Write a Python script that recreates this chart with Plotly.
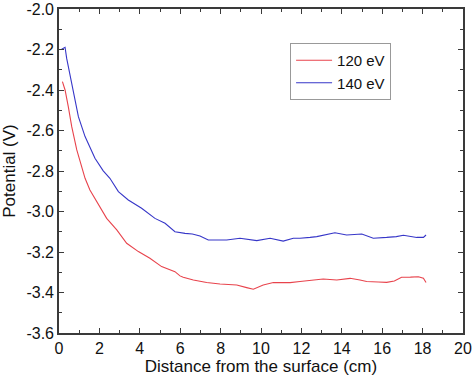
import plotly.graph_objects as go

# Data
x_120 = [0.17, 0.30, 0.46, 0.63, 0.88, 1.12, 1.29, 1.53, 1.95, 2.36, 2.86, 3.35, 3.93, 4.50, 5.08,
         5.50, 5.74, 5.99, 6.15, 6.65, 7.31, 7.97, 8.80, 9.29, 9.62, 10.11, 10.61, 11.10, 11.44, 11.93,
         12.43, 13.08, 13.75, 14.41, 14.90, 15.23, 15.80, 16.22, 16.60, 16.96, 17.40, 17.79, 18.04, 18.17]
y_120 = [-2.359, -2.400, -2.482, -2.581, -2.696, -2.778, -2.836, -2.894, -2.968, -3.034, -3.091, -3.157, -3.198, -3.231, -3.272,
         -3.289, -3.297, -3.318, -3.325, -3.338, -3.351, -3.358, -3.363, -3.376, -3.384, -3.363, -3.351, -3.351, -3.351, -3.346,
         -3.341, -3.333, -3.338, -3.330, -3.338, -3.346, -3.348, -3.350, -3.343, -3.325, -3.324, -3.322, -3.330, -3.351]

x_140 = [0.13, 0.30, 0.38, 0.63, 0.96, 1.29, 1.78, 2.19, 2.52, 2.94, 3.43, 4.09, 4.75, 5.25, 5.74,
         6.24, 6.60, 6.98, 7.39, 7.81, 8.30, 8.96, 9.30, 9.79, 10.45, 11.10, 11.60, 11.93, 12.43, 12.76,
         13.66, 14.24, 14.99, 15.56, 16.22, 16.70, 17.05, 17.40, 17.71, 18.04, 18.17]
y_140 = [-2.199, -2.189, -2.244, -2.367, -2.532, -2.630, -2.737, -2.799, -2.836, -2.902, -2.943, -2.984, -3.034, -3.058, -3.100,
         -3.108, -3.111, -3.121, -3.141, -3.141, -3.141, -3.132, -3.137, -3.144, -3.132, -3.146, -3.132, -3.132, -3.128, -3.124,
         -3.105, -3.116, -3.111, -3.132, -3.128, -3.124, -3.117, -3.122, -3.128, -3.128, -3.116]

x_ticks = [0, 2, 4, 6, 8, 10, 12, 14, 16, 18, 20]
y_ticks = [-3.6, -3.4, -3.2, -3.0, -2.8, -2.6, -2.4, -2.2, -2.0]
y_tick_text = ["-3.6", "-3.4", "-3.2", "-3.0", "-2.8", "-2.6", "-2.4", "-2.2", "-2.0"]

FONT = "Liberation Sans, Arial, sans-serif"
AX = "#3a3a3a"

fig = go.Figure()
fig.add_trace(go.Scatter(x=x_120, y=y_120, mode="lines", name="120 eV",
                         line=dict(color="#e8434c", width=1.1)))
fig.add_trace(go.Scatter(x=x_140, y=y_140, mode="lines", name="140 eV",
                         line=dict(color="#3636c8", width=1.1)))

axis_common = dict(showline=True, linecolor=AX, linewidth=1.6, mirror="ticks",
                   ticks="inside", ticklen=5, tickwidth=1.3, tickcolor=AX,
                   showgrid=False, zeroline=False, automargin=False,
                   tickfont=dict(family=FONT, size=16, color="#111"))

fig.update_xaxes(range=[0, 20], tickvals=x_ticks,
                 title=dict(text="Distance from the surface (cm)", font=dict(family=FONT, size=17, color="#111"), standoff=0),
                 minor=dict(dtick=1, tick0=0, ticks="inside", ticklen=3, tickwidth=1.1, tickcolor=AX),
                 **axis_common)
fig.update_yaxes(range=[-3.6, -2.0], tickvals=y_ticks, ticktext=y_tick_text,
                 title=dict(text="Potential (V)", font=dict(family=FONT, size=17, color="#111"), standoff=6),
                 minor=dict(dtick=0.1, tick0=-3.6, ticks="inside", ticklen=3, tickwidth=1.1, tickcolor=AX),
                 **axis_common)

fig.update_layout(
    width=474, height=376,
    margin=dict(l=59, r=11, t=9, b=43),
    paper_bgcolor="white", plot_bgcolor="white",
    showlegend=True,
    legend=dict(x=0.572, y=0.895, xanchor="left", yanchor="top",
                bordercolor="#999", borderwidth=1, bgcolor="white",
                font=dict(family=FONT, size=15, color="#111"),
                tracegroupgap=0, itemwidth=36),
)

fig.write_html("out.html", config={"displayModeBar": False},
               post_script="document.body.style.margin='0';")
